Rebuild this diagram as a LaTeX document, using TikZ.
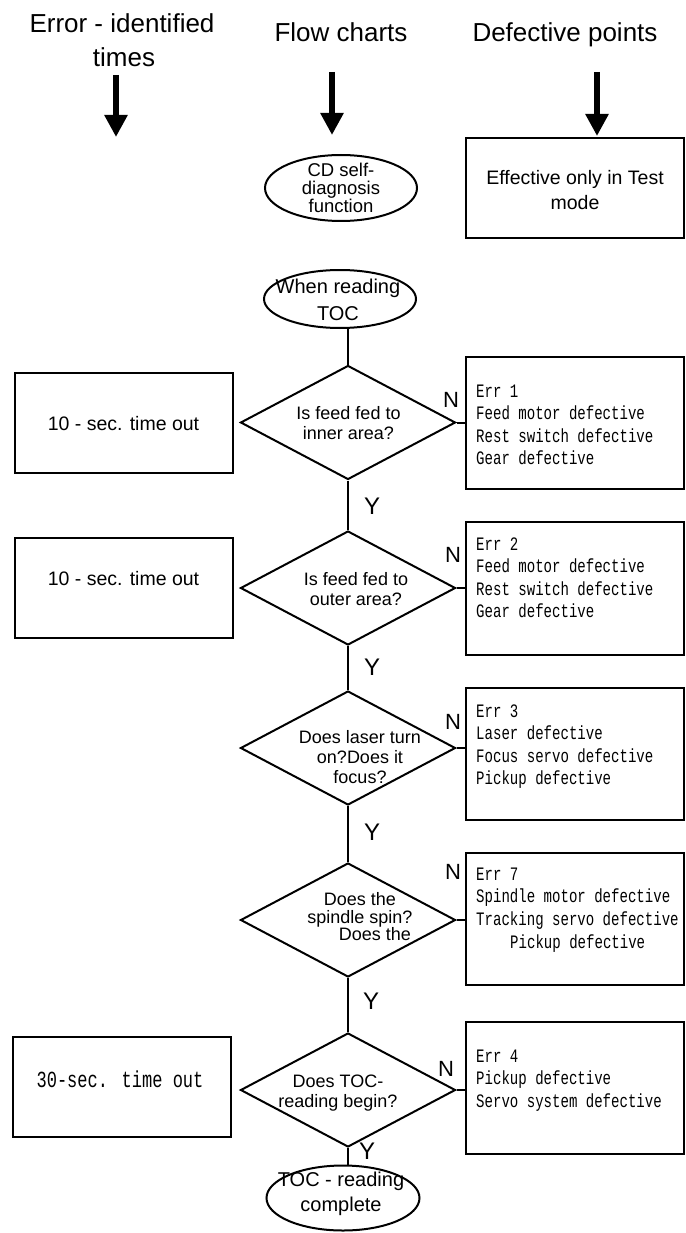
\documentclass[tikz,border=0pt]{standalone}
\usepackage{fontspec}
\setmainfont{Liberation Sans}
\newfontfamily\monof[FakeStretch=0.74]{Liberation Mono}
\usetikzlibrary{shapes.geometric,arrows.meta}
\begin{document}
\begin{tikzpicture}[x=1pt,y=-1pt,
  hdr/.style={font=\fontsize{26}{30}\selectfont, inner sep=0, anchor=base},
  dtxt/.style={font=\fontsize{18}{20}\selectfont, align=center, inner sep=0},
  ltxt/.style={font=\fontsize{19.5}{24.5}\selectfont, align=center, inner sep=0},
  rbox/.style={draw, line width=1.8pt, rectangle, inner sep=0, minimum width=218pt},
  dec/.style={draw, diamond, line width=2pt, minimum width=215pt, minimum height=114pt, inner sep=0},
  term/.style={draw, ellipse, line width=2pt, inner sep=0},
  flow/.style={line width=2pt},
  bigarrow/.style={line width=5.5pt, -{Triangle[length=22pt,width=22pt]}},
  nylbl/.style={font=\fontsize{22}{22}\selectfont, inner sep=0},
  errtxt/.style={font=\monof\fontsize{19}{22.5}\selectfont, anchor=base west, inner sep=0},
]
\useasboundingbox (0,0) rectangle (685,1233);

% headers
\node[hdr] (h1a) at (122,33) {Error - identified};
\node[hdr] (h1b) at (124,67) {times};
\node[hdr] (h2) at (341,42) {Flow charts};
\node[hdr] (h3) at (565,42) {Defective points};
\coordinate (a1s) at (116,75);  \coordinate (a1e) at (116,137);
\coordinate (a2s) at (332,72);  \coordinate (a2e) at (332,135);
\coordinate (a3s) at (597,72);  \coordinate (a3e) at (597,136);
\draw[bigarrow] (a1s) -- (a1e);
\draw[bigarrow] (a2s) -- (a2e);
\draw[bigarrow] (a3s) -- (a3e);

% top row
\node[term, minimum width=152pt, minimum height=66pt] (cd) at (341,188) {};
\node[dtxt, font=\fontsize{18.5}{18}\selectfont] (cdt) at (341,188) {CD self-\\diagnosis\\function};
\node[rbox, minimum height=100pt] (test) at (575,188) {};
\node[ltxt] (testt) at (575,190) {Effective only in Test\\mode};

% start
\node[term, minimum width=152pt, minimum height=58pt] (toc) at (340,299) {};
\node[dtxt, font=\fontsize{20}{27}\selectfont] (toct) at (338,300) {When reading\\TOC};

% decisions
\node[dec] (d1) at (348,422.5) {};
\node[dtxt] (d1t) at (348.5,423) {Is feed fed to\\inner area?};
\node[dec] (d2) at (348,588) {};
\node[dtxt] (d2t) at (356,589) {Is feed fed to\\outer area?};
\node[dec] (d3) at (348,748) {};
\node[dtxt] (d3t) at (360,757) {Does laser turn\\on?Does it\\focus?};
\node[dec] (d4) at (348,920) {};
\node[dtxt, font=\fontsize{18}{17.5}\selectfont] (d4t) at (360,917) {Does the\\spindle spin?\\\hspace*{30pt}Does the};
\node[dec] (d5) at (348,1090) {};
\node[dtxt] (d5t) at (338,1093) {Does TOC-\\reading begin?};

% end
\node[term, minimum width=153pt, minimum height=65pt] (fin) at (343,1198) {};
\node[dtxt, font=\fontsize{20}{25}\selectfont] (fint) at (341,1194) {TOC - reading\\complete};

% flow lines
\draw[flow] (d1.north |- toc.south) -- (d1.north);
\draw[flow] (d1.south) -- (d2.north);
\draw[flow] (d2.south) -- (d3.north);
\draw[flow] (d3.south) -- (d4.north);
\draw[flow] (d4.south) -- (d5.north);
\draw[flow] (d5.south) -- (d5.south |- fin.north);

% left boxes
\node[rbox, minimum height=100pt] (l1) at (124,423) {};
\node[ltxt] (l1t) at (123.5,423.5) {10 - sec. time out};
\node[rbox, minimum height=100pt] (l2) at (124,588) {};
\node[ltxt] (l2t) at (123.5,579) {10 - sec. time out};
\node[rbox, minimum height=100pt] (l3) at (122,1087) {};
\node[font=\monof\fontsize{23}{26}\selectfont, inner sep=0] (l3t) at (120,1079) {30-sec. time out};

% error boxes
\node[rbox, minimum height=132pt] (e1) at (575,423) {};
\foreach \t [count=\i] in {Err 1,Feed motor defective,Rest switch defective,Gear defective}
  \node[errtxt] (e1l\i) at (476,{397+22.5*(\i-1)}) {\t};
\node[rbox, minimum height=133pt] (e2) at (575,588.5) {};
\foreach \t [count=\i] in {Err 2,Feed motor defective,Rest switch defective,Gear defective}
  \node[errtxt] (e2l\i) at (476,{550+22.6*(\i-1)}) {\t};
\node[rbox, minimum height=132pt] (e3) at (575,754) {};
\foreach \t [count=\i] in {Err 3,Laser defective,Focus servo defective,Pickup defective}
  \node[errtxt] (e3l\i) at (476,{717+22.5*(\i-1)}) {\t};
\node[rbox, minimum height=132pt] (e7) at (575,919) {};
\foreach \t [count=\i] in {Err 7,Spindle motor defective,Tracking servo defective}
  \node[errtxt] (e7l\i) at (476,{880+22.8*(\i-1)}) {\t};
\node[errtxt] (e7l4) at (510,948) {Pickup defective};
\node[rbox, minimum height=132pt] (e4) at (575,1088) {};
\foreach \t [count=\i] in {Err 4,Pickup defective,Servo system defective}
  \node[errtxt] (e4l\i) at (476,{1062+22.5*(\i-1)}) {\t};

% N branches
\draw[flow] (d1.east) -- (d1.east -| e1.west);
\draw[flow] (d2.east) -- (d2.east -| e2.west);
\draw[flow] (d3.east) -- (d3.east -| e3.west);
\draw[flow] (d4.east) -- (d4.east -| e7.west);
\draw[flow] (d5.east) -- (d5.east -| e4.west);

% labels
\node[nylbl] (n1) at (451,400) {N};
\node[nylbl] (n2) at (453,555) {N};
\node[nylbl] (n3) at (453,722) {N};
\node[nylbl] (n4) at (453,872) {N};
\node[nylbl] (n5) at (446,1069) {N};
\node[nylbl, font=\fontsize{24}{24}\selectfont] (y1) at (372,506) {Y};
\node[nylbl, font=\fontsize{24}{24}\selectfont] (y2) at (372,667) {Y};
\node[nylbl, font=\fontsize{24}{24}\selectfont] (y3) at (372,832) {Y};
\node[nylbl, font=\fontsize{24}{24}\selectfont] (y4) at (371,1001) {Y};
\node[nylbl, font=\fontsize{24}{24}\selectfont] (y5) at (367,1151) {Y};
\end{tikzpicture}
\end{document}
